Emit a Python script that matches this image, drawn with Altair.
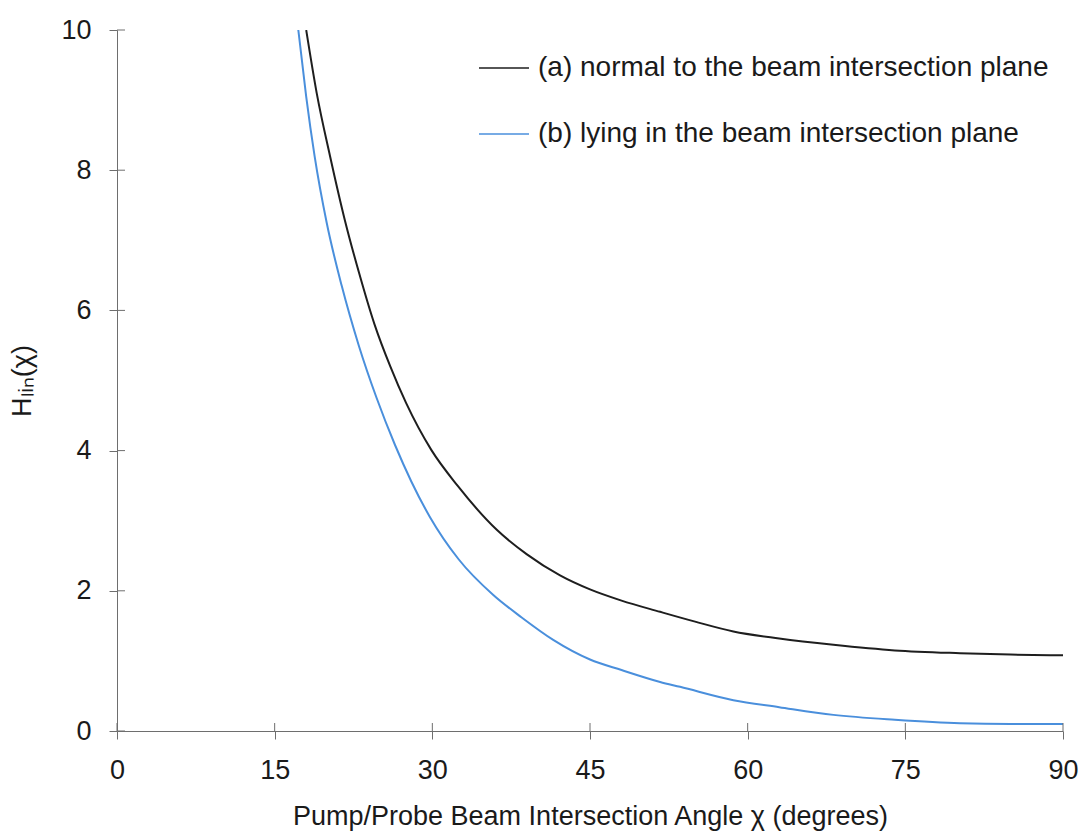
import altair as alt
import pandas as pd

# Curve (a): normal to the beam intersection plane
angle_a = [18.0, 19.0, 20.27, 21.69, 23.0, 24.5, 26.0, 27.5, 29.9, 32.4, 36.13, 39.0,
           42.15, 45.0, 48.0, 51.67, 55.0, 58.64, 63.0, 68.16, 74.0, 80.2, 85.0, 90.0]
h_a = [10.0, 9.1, 8.2, 7.28, 6.55, 5.8, 5.2, 4.68, 4.01, 3.50, 2.87, 2.52,
       2.22, 2.02, 1.86, 1.70, 1.56, 1.42, 1.32, 1.23, 1.15, 1.11, 1.09, 1.08]

# Curve (b): lying in the beam intersection plane
angle_b = [17.25, 18.0, 18.8, 19.95, 21.38, 23.0, 24.7, 26.45, 28.0, 29.78, 32.5, 35.8,
           38.5, 41.5, 45.0, 48.0, 51.67, 53.57, 58.64, 63.0, 68.16, 74.0, 80.2, 85.0, 90.0]
h_b = [10.0, 9.05, 8.2, 7.25, 6.35, 5.5, 4.75, 4.08, 3.56, 3.05, 2.45, 1.94,
       1.62, 1.30, 1.02, 0.87, 0.70, 0.63, 0.44, 0.34, 0.23, 0.16, 0.11, 0.10, 0.10]

series_names = ["(a) normal to the beam intersection plane",
                "(b) lying in the beam intersection plane"]
series_colors = ["#1e1e1e", "#4a8fdc"]

x_ticks = [0, 15, 30, 45, 60, 75, 90]
y_ticks = [0, 2, 4, 6, 8, 10]

df = pd.concat([
    pd.DataFrame({"angle": angle_a, "H": h_a, "series": series_names[0], "order": range(len(angle_a))}),
    pd.DataFrame({"angle": angle_b, "H": h_b, "series": series_names[1], "order": range(len(angle_b))}),
])

W, H = 946, 701
FONT = "Liberation Sans"
AXIS_COLOR = "#6e6e6e"

xscale = alt.Scale(domain=[0, 90], nice=False, zero=False)
yscale = alt.Scale(domain=[0, 10], nice=False)

lines = alt.Chart(df).mark_line(strokeWidth=2, interpolate="monotone", clip=True).encode(
    x=alt.X("angle:Q", scale=xscale,
            axis=alt.Axis(values=x_ticks, format="d",
                          title="Pump/Probe Beam Intersection Angle χ (degrees)",
                          grid=False, tickSize=8, labelPadding=18, titlePadding=20,
                          labelFlush=False, labelFontSize=27, titleFontSize=27)),
    y=alt.Y("H:Q", scale=yscale,
            axis=alt.Axis(values=y_ticks, format="d", title="Hₗᵢₙ(χ)", grid=False, tickSize=8,
                          labelPadding=18, titlePadding=24, labelFlush=False,
                          labelFontSize=27, titleFontSize=27)),
    color=alt.Color("series:N",
                    scale=alt.Scale(domain=series_names, range=series_colors),
                    legend=alt.Legend(title=None, orient="none", legendX=361, legendY=12,
                                      symbolType="stroke", symbolSize=2500, symbolStrokeWidth=1.5,
                                      labelFontSize=28, labelFont=FONT, labelColor="#1a1a1a",
                                      labelOffset=8, rowPadding=26, padding=0, labelLimit=800)),
    order="order:Q",
)

xt = pd.DataFrame({"t": x_ticks})
yt = pd.DataFrame({"t": y_ticks})
x_inner = alt.Chart(xt).mark_rule(color=AXIS_COLOR, strokeWidth=1).encode(
    x=alt.X("t:Q", scale=xscale), y=alt.value(H - 8), y2=alt.value(H))
y_inner = alt.Chart(yt).mark_rule(color=AXIS_COLOR, strokeWidth=1).encode(
    y=alt.Y("t:Q", scale=yscale), x=alt.value(0), x2=alt.value(8))

chart = alt.layer(lines, x_inner, y_inner).properties(
    width=W, height=H,
    background="white",
    autosize=alt.AutoSizeParams(type="none"),
    padding={"left": 117, "top": 30, "right": 20, "bottom": 100},
).configure_view(stroke=None).configure_axis(
    domainColor=AXIS_COLOR, tickColor=AXIS_COLOR, labelFont=FONT, titleFont=FONT,
    labelFontSize=27, titleFontSize=27, labelColor="#1a1a1a", titleColor="#1a1a1a",
    titleFontWeight="normal",
)

chart.save("out.html", embed_options={"renderer": "svg", "actions": False})
